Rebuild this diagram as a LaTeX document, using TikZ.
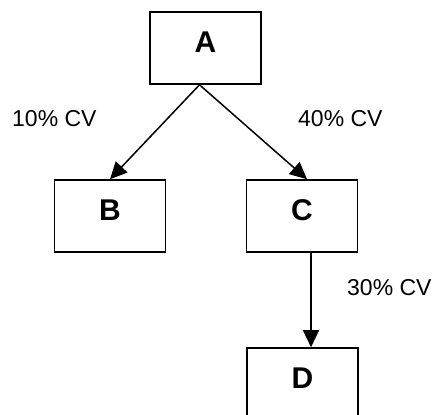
\documentclass[tikz,border=0pt]{standalone}
\usepackage{fontspec}
\setmainfont{Liberation Sans}
\usetikzlibrary{arrows.meta}

\begin{document}
\begin{tikzpicture}[x=1pt, y=-1pt,
  boxstyle/.style={draw=black, line width=1.6pt, minimum width=111pt, minimum height=72pt,
    inner sep=0pt, font=\fontsize{30}{32}\selectfont\bfseries, text height=21.5pt, text depth=12pt},
  arrowstyle/.style={draw=black, line width=1.5pt, -{Triangle[length=17pt, width=16pt]}},
  cvstyle/.style={inner sep=0pt, anchor=base west, font=\fontsize{23}{25}\selectfont}]
  \useasboundingbox (0,0) rectangle (435,414);

  \node[boxstyle] (A) at (205.5,48) {A};
  \node[boxstyle] (B) at (110,216) {B};
  \node[boxstyle] (C) at (302,216) {C};
  \node[boxstyle] (D) at (302.5,384) {D};

  \draw[arrowstyle] ([xshift=-6pt]A.south) -- (B.north);
  \draw[arrowstyle] ([xshift=-6pt]A.south) -- ([xshift=5pt]C.north);
  \draw[arrowstyle] ([xshift=9pt]C.south) -- ([xshift=8.5pt]D.north);

  \node[cvstyle] (cvB) at (12,127) {10\% CV};
  \node[cvstyle] (cvC) at (298,127) {40\% CV};
  \node[cvstyle] (cvD) at (347,295) {30\% CV};
\end{tikzpicture}
\end{document}
